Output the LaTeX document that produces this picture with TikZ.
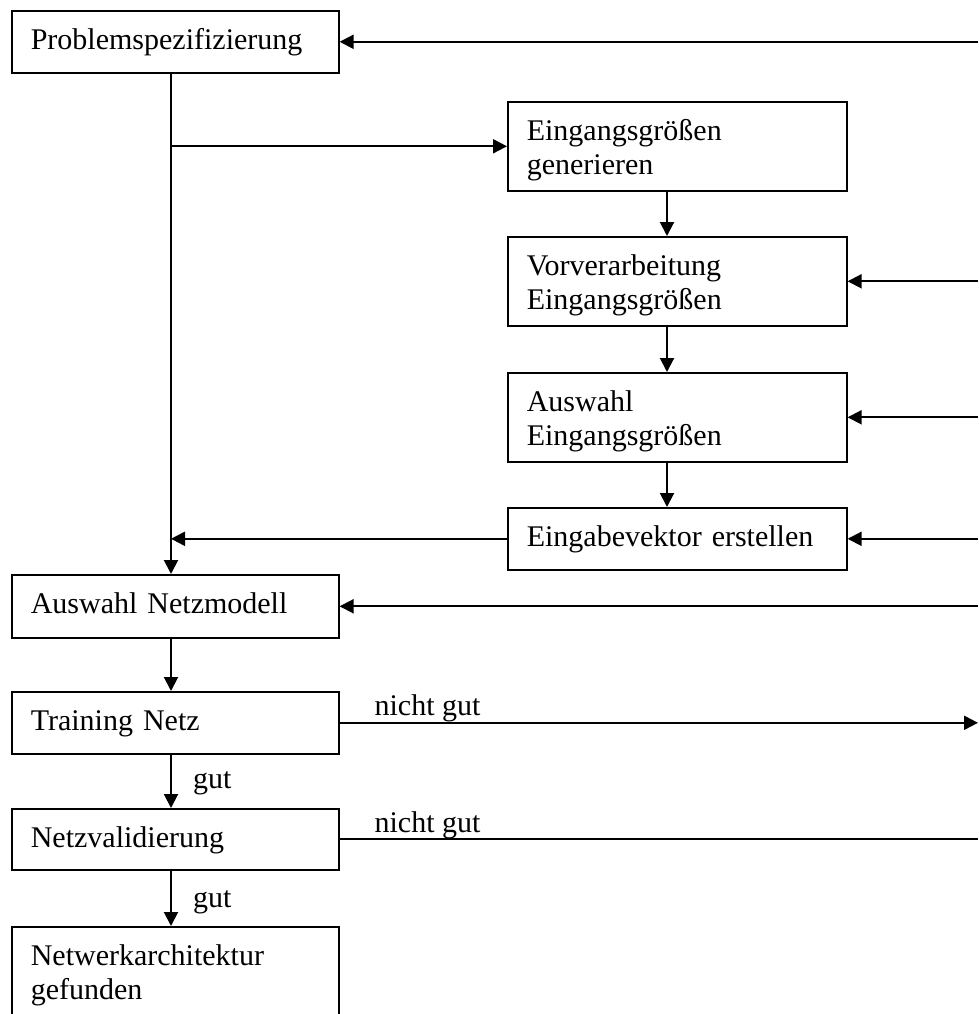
\documentclass[tikz,border=0pt]{standalone}
\usepackage{fontspec}
\setmainfont{Liberation Serif}
\usetikzlibrary{arrows.meta}
\begin{document}
\begin{tikzpicture}[x=1pt,y=-1pt,
  txt/.style={font=\fontsize{30pt}{33.5pt}\selectfont},
  box/.style={txt, draw, line width=1.6pt, anchor=north west, align=left,
    inner xsep=19pt, inner ysep=0pt, text height=39pt},
  lbox/.style={box, text width=289pt},
  rbox/.style={box, text width=301pt},
  oneline/.style={text depth=23pt},
  twoline/.style={text depth=50pt},
  link/.style={line width=2pt},
  arr/.style={link, -{Triangle[length=14pt,width=14pt]}},
  lbl/.style={txt, anchor=base west, inner sep=0pt}]
\clip (0,0) rectangle (978,1014);

% left column
\node[lbox, oneline] (prob) at (11,10) {Problemspezifizierung};
\node[lbox, oneline, text depth=24pt] (netz) at (11,574) {Auswahl Netzmodell};
\node[lbox, oneline] (train) at (11,691) {Training Netz};
\node[lbox, oneline, text depth=22pt] (valid) at (11,808) {Netzvalidierung};
\node[lbox, twoline] (found) at (11,926) {Netwerkarchitektur\\gefunden};

% right column
\node[rbox, twoline] (gen) at (507,101) {Eingangsgrößen\\generieren};
\node[rbox, twoline] (vor) at (507,236) {Vorverarbeitung\\Eingangsgrößen};
\node[rbox, twoline] (ausw) at (507,372) {Auswahl\\Eingangsgrößen};
\node[rbox, oneline] (vek) at (507,507) {Eingabevektor erstellen};

% guide lines
\coordinate (tx) at (171,0);
\coordinate (cx) at (667,0);
\coordinate (edge) at (978,0);

% main trunk
\draw[arr] (prob.south -| tx) -- (netz.north -| tx);
\draw[arr] (gen.west -| tx) -- (gen.west);
\draw[arr] (vek.west) -- (vek.west -| tx);

% input chain
\draw[arr] (gen.south -| cx) -- (vor.north -| cx);
\draw[arr] (vor.south -| cx) -- (ausw.north -| cx);
\draw[arr] (ausw.south -| cx) -- (vek.north -| cx);

% training chain
\draw[arr] (netz.south -| tx) -- (train.north -| tx);
\draw[arr] (train.south -| tx) -- node[lbl, xshift=21pt, yshift=-7pt] {gut} (valid.north -| tx);
\draw[arr] (valid.south -| tx) -- node[lbl, xshift=21pt, yshift=-9pt] {gut} (found.north -| tx);

% feedback lines
\draw[arr] (train.east) -- node[lbl, at start, xshift=34pt, yshift=7pt] {nicht gut} (train.east -| edge);
\draw[link] (valid.east) -- node[lbl, at start, xshift=34pt, yshift=7pt] {nicht gut} (valid.east -| edge);
\draw[arr] (prob.east -| edge) -- (prob.east);
\draw[arr] (vor.east -| edge) -- (vor.east);
\draw[arr] (ausw.east -| edge) -- (ausw.east);
\draw[arr] (vek.east -| edge) -- (vek.east);
\draw[arr] (netz.east -| edge) -- (netz.east);
\end{tikzpicture}
\end{document}
